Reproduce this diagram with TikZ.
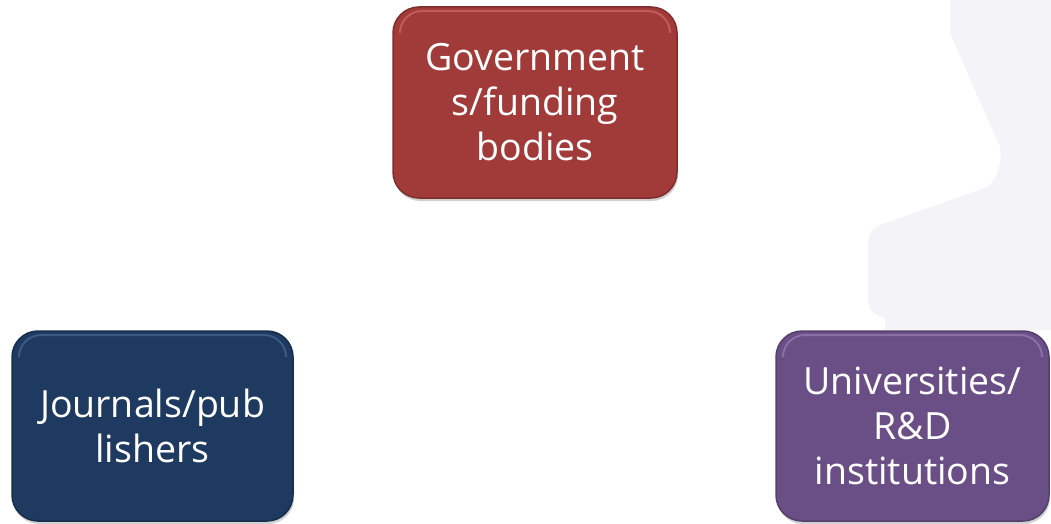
\documentclass[tikz,border=0pt]{standalone}
\usepackage{fontspec}
\setmainfont{Open Sans}
\usetikzlibrary{shadows}
\definecolor{redbox}{HTML}{A13B3A}
\definecolor{redtop}{HTML}{C25A58}
\definecolor{redline}{HTML}{7E2E2D}
\definecolor{bluebox}{HTML}{1E3A60}
\definecolor{bluetop}{HTML}{3A5A85}
\definecolor{blueline}{HTML}{172E4C}
\definecolor{purplebox}{HTML}{6A4F86}
\definecolor{purpletop}{HTML}{8A70A6}
\definecolor{purpleline}{HTML}{54406B}
\definecolor{ghost}{HTML}{F4F3F7}
\tikzset{
  x=1pt, y=-1pt,
  card/.style={rounded corners=26pt, line width=1.5pt,
    drop shadow={shadow xshift=1pt, shadow yshift=-3pt, opacity=0.3, fill=black!60}},
  cardtext/.style={text=white, align=center, font=\fontsize{37.5}{45}\selectfont},
}
\begin{document}
\begin{tikzpicture}
\useasboundingbox (0,0) rectangle (1051,524);
% faint background shape
\fill[ghost] (950,0) -- (950,33) -- (1000,147) .. controls (1003,160) and (997,180) .. (987,187)
  -- (880,225) .. controls (870,230) and (868,235) .. (868,245) -- (868,300)
  .. controls (868,310) and (875,315) .. (885,318) -- (885,330) -- (1051,330) -- (1051,0) -- cycle;
% boxes
\path[card, draw=redline, fill=redbox] (393,7) rectangle (677,198);
\draw[redtop, line width=2pt, rounded corners=22pt] (400,30) -- (400,11) -- (670,11) -- (670,30);
\node[cardtext] (gov) at (535,102.5) {Government\\s/funding\\bodies};
\path[card, draw=blueline, fill=bluebox] (12,331) rectangle (293,521);
\draw[bluetop, line width=2pt, rounded corners=22pt] (19,354) -- (19,335) -- (286,335) -- (286,354);
\node[cardtext] (jour) at (152.5,426) {Journals/pub\\lishers};
\path[card, draw=purpleline, fill=purplebox] (776,331) rectangle (1049,521);
\draw[purpletop, line width=2pt, rounded corners=22pt] (783,354) -- (783,335) -- (1042,335) -- (1042,354);
\node[cardtext] (uni) at (912.5,426) {Universities/\\R\&D\\institutions};
\end{tikzpicture}
\end{document}
